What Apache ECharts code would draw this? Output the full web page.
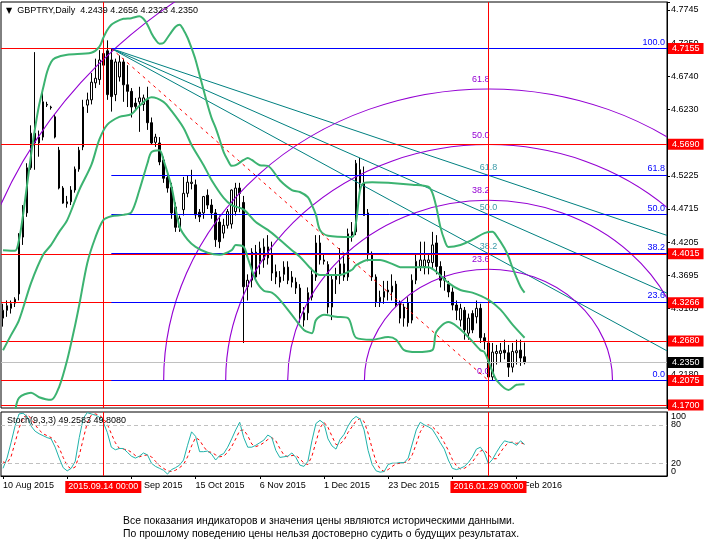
<!DOCTYPE html>
<html><head><meta charset="utf-8">
<script src="https://cdn.jsdelivr.net/npm/echarts@6/dist/echarts.min.js"></script>
<style>html,body{margin:0;padding:0;background:#fff}#c{width:706px;height:552px}</style>
</head><body><div id="c"></div>
<script>
// ---------- data ----------
const opens = [4.303,4.315,4.318,4.326,4.340,4.427,4.464,4.533,4.586,4.571,
4.580,4.630,4.626,4.611,4.560,4.502,4.478,4.481,4.499,4.531,
4.565,4.629,4.637,4.663,4.668,4.690,4.712,4.698,4.645,4.672,
4.695,4.660,4.650,4.632,4.634,4.630,4.637,4.602,4.572,4.571,
4.545,4.518,4.503,4.473,4.442,4.469,4.494,4.509,4.507,4.465,
4.464,4.491,4.476,4.464,4.450,4.433,4.445,4.447,4.466,4.502,
4.480,4.351,4.361,4.404,4.390,4.392,4.395,4.400,4.374,4.366,
4.370,4.381,4.366,4.358,4.349,4.300,4.311,4.335,4.366,4.418,
4.392,4.385,4.320,4.362,4.368,4.386,4.366,4.430,4.435,4.530,
4.510,4.464,4.400,4.366,4.328,4.335,4.343,4.343,4.355,4.327,
4.303,4.327,4.300,4.361,4.382,4.382,4.388,4.388,4.418,4.382,
4.361,4.355,4.343,4.323,4.300,4.315,4.280,4.310,4.305,4.318,
4.273,4.265,4.213,4.249,4.249,4.254,4.250,4.228,4.250,4.254,
4.2439];
const highs = [4.325,4.330,4.330,4.335,4.433,4.476,4.540,4.598,4.710,4.590,
4.652,4.634,4.628,4.615,4.565,4.505,4.490,4.505,4.535,4.565,
4.637,4.648,4.678,4.700,4.713,4.712,4.728,4.7155,4.700,4.705,
4.700,4.690,4.655,4.640,4.657,4.645,4.657,4.610,4.585,4.580,
4.550,4.525,4.510,4.480,4.460,4.519,4.522,4.530,4.515,4.470,
4.490,4.500,4.485,4.470,4.460,4.455,4.470,4.500,4.510,4.510,
4.490,4.370,4.410,4.415,4.420,4.425,4.430,4.420,4.385,4.375,
4.390,4.390,4.375,4.365,4.355,4.320,4.350,4.380,4.430,4.430,
4.400,4.390,4.370,4.380,4.410,4.400,4.440,4.450,4.545,4.548,
4.535,4.470,4.405,4.370,4.345,4.360,4.360,4.370,4.360,4.330,
4.325,4.335,4.370,4.400,4.420,4.420,4.400,4.435,4.430,4.390,
4.375,4.360,4.350,4.330,4.325,4.320,4.310,4.315,4.330,4.325,
4.280,4.270,4.265,4.262,4.265,4.270,4.262,4.265,4.270,4.270,
4.2656];
const lows = [4.290,4.305,4.310,4.320,4.330,4.415,4.458,4.530,4.530,4.550,
4.575,4.626,4.622,4.578,4.500,4.478,4.472,4.476,4.495,4.527,
4.560,4.617,4.630,4.655,4.660,4.685,4.637,4.619,4.635,4.665,
4.634,4.626,4.610,4.620,4.588,4.620,4.591,4.568,4.565,4.537,
4.510,4.495,4.455,4.435,4.435,4.460,4.488,4.500,4.455,4.450,
4.455,4.470,4.455,4.412,4.410,4.425,4.440,4.440,4.460,4.465,
4.265,4.330,4.350,4.360,4.370,4.380,4.385,4.360,4.355,4.350,
4.360,4.355,4.350,4.340,4.296,4.290,4.300,4.330,4.360,4.385,
4.385,4.310,4.300,4.340,4.355,4.360,4.360,4.420,4.430,4.490,
4.460,4.390,4.360,4.320,4.320,4.325,4.330,4.330,4.320,4.295,
4.290,4.290,4.295,4.355,4.375,4.370,4.370,4.380,4.370,4.350,
4.345,4.335,4.315,4.300,4.290,4.270,4.270,4.280,4.295,4.265,
4.255,4.2075,4.208,4.232,4.235,4.240,4.213,4.220,4.232,4.230,
4.2323];
const closes = [4.315,4.322,4.325,4.332,4.427,4.464,4.533,4.586,4.571,4.580,
4.634,4.629,4.625,4.580,4.502,4.479,4.481,4.499,4.531,4.560,
4.626,4.637,4.664,4.670,4.698,4.708,4.645,4.642,4.695,4.695,
4.660,4.650,4.626,4.627,4.640,4.640,4.602,4.571,4.580,4.542,
4.517,4.502,4.464,4.442,4.456,4.494,4.511,4.511,4.461,4.458,
4.489,4.476,4.464,4.423,4.420,4.445,4.466,4.499,4.502,4.494,
4.351,4.361,4.404,4.366,4.410,4.412,4.412,4.372,4.366,4.358,
4.381,4.361,4.358,4.349,4.311,4.311,4.342,4.370,4.418,4.392,
4.390,4.320,4.362,4.368,4.386,4.366,4.432,4.435,4.540,4.510,
4.460,4.400,4.366,4.328,4.335,4.344,4.346,4.352,4.323,4.303,
4.320,4.296,4.361,4.390,4.392,4.392,4.392,4.415,4.382,4.361,
4.364,4.343,4.323,4.315,4.318,4.285,4.303,4.285,4.318,4.273,
4.267,4.213,4.251,4.252,4.253,4.250,4.228,4.252,4.253,4.242,
4.2350];

const bbUpper = [[0,4.407],[3,4.406],[4,4.423],[5,4.461],[6,4.507],[7,4.553],[8,4.594],[9,4.629],[10,4.655],[11,4.680],[12,4.695],[13,4.701],[16,4.706],[22,4.709],[24,4.718],[25,4.732],[26,4.744],[27,4.752],[28,4.756],[30,4.761],[32,4.762],[34,4.765],[35,4.761],[36,4.752],[37,4.739],[38,4.729],[39,4.723],[40,4.724],[41,4.732],[42,4.741],[43,4.749],[44,4.752],[45,4.744],[46,4.732],[47,4.716],[48,4.698],[49,4.675],[50,4.652],[51,4.629],[52,4.609],[53,4.594],[54,4.576],[55,4.557],[56,4.545],[57,4.536],[58,4.537],[60,4.545],[61,4.548],[62,4.545],[64,4.537],[66,4.536],[69,4.514],[72,4.499],[74,4.496],[76,4.488],[77,4.476],[78,4.461],[79,4.438],[81,4.429],[87,4.427],[88,4.450],[89,4.499],[90,4.510],[92,4.511],[96,4.510],[102,4.507],[106,4.504],[107,4.495],[108,4.473],[109,4.443],[110,4.423],[111,4.412],[114,4.415],[117,4.423],[120,4.433],[122,4.435],[123,4.429],[125,4.410],[126,4.397],[127,4.380],[129,4.351],[130,4.342]];
const bbMiddle = [[0,4.254],[2,4.277],[4,4.300],[7,4.357],[10,4.400],[12,4.415],[14,4.435],[16,4.453],[19,4.499],[22,4.537],[24,4.576],[26,4.599],[29,4.611],[32,4.615],[34,4.628],[37,4.641],[40,4.634],[42,4.620],[45,4.594],[47,4.568],[50,4.537],[52,4.514],[55,4.487],[57,4.476],[60,4.469],[63,4.450],[66,4.438],[69,4.423],[72,4.407],[74,4.397],[77,4.377],[79,4.369],[84,4.369],[87,4.377],[88,4.384],[91,4.392],[94,4.392],[97,4.386],[99,4.381],[106,4.381],[108,4.374],[111,4.357],[114,4.346],[117,4.342],[121,4.331],[124,4.316],[127,4.293],[130,4.273]];
const bbLower = [[3,4.159],[4,4.181],[7,4.189],[9,4.182],[12,4.178],[14,4.198],[16,4.239],[18,4.293],[19,4.323],[21,4.387],[23,4.426],[25,4.453],[27,4.459],[30,4.461],[32,4.465],[34,4.499],[36,4.540],[37,4.557],[39,4.560],[40,4.545],[42,4.504],[44,4.443],[46,4.423],[48,4.412],[51,4.403],[54,4.400],[57,4.407],[58,4.415],[60,4.412],[61,4.395],[63,4.361],[65,4.345],[67,4.342],[69,4.331],[72,4.308],[75,4.285],[77,4.280],[78,4.300],[80,4.308],[83,4.305],[86,4.303],[88,4.273],[92,4.270],[96,4.274],[98,4.270],[100,4.254],[103,4.251],[107,4.254],[108,4.282],[111,4.297],[113,4.291],[116,4.274],[119,4.254],[120,4.251],[122,4.221],[123,4.208],[126,4.193],[128,4.201],[130,4.202]];

const stochMain = [12,28,52,78,97,98,93,78,70,66, 63,60,58,45,28,13,8,12,23,60,
90,99,97,95,92,84,68,45,41,43, 43,37,31,28,31,36,33,20,15,12,
9,3,10,13,17,25,48,69,62,38, 38,39,34,25,32,35,45,58,72,84,
60,45,45,48,52,56,64,60,40,29, 30,31,36,29,17,15,23,55,82,87,
82,58,47,42,57,65,78,88,93,89, 72,40,18,8,6,7,18,20,20,21,
21,28,50,72,84,80,77,73,63,52, 42,25,12,10,12,15,21,30,42,45,
36,19,26,37,47,55,53,52,48,55, 49.2583];
const stochSignal = [22,20,30,52,75,91,96,90,80,72, 66,63,60,54,44,29,16,11,14,32,
58,83,95,97,95,90,81,66,52,43, 42,41,37,32,30,32,33,30,23,16,
12,8,7,9,13,18,30,47,60,56, 46,38,37,33,30,31,37,46,58,71,
72,63,50,46,48,52,57,60,55,43, 33,30,32,32,27,20,18,31,53,75,
84,76,62,49,50,56,68,77,86,90, 85,67,43,22,11,7,10,15,19,20,
21,23,33,50,69,79,80,77,71,63, 52,40,26,16,11,12,16,22,31,39,
41,33,27,27,37,46,52,53,51,52, 49.808];

const dateLabels = ['10 Aug 2015','1 Sep 2015','23 Sep 2015','15 Oct 2015','6 Nov 2015','1 Dec 2015','23 Dec 2015','15 Jan 2016','8 Feb 2016'];
const priceTicks = [4.2180,4.2690,4.3185,4.3695,4.4205,4.4715,4.5225,4.5720,4.6230,4.6740,4.7250,4.7745];
const stochTicks = [20,80];
const stochEnds = [0,100];
const redLevels = [4.7155,4.5690,4.4015,4.3266,4.2680,4.2075,4.1700];
const fibPoints = [[27,4.7155],[121,4.2075]];
const fibRatios = [0,0.236,0.382,0.5,0.618,1];
const fanRatios = [0.382,0.5,0.618];
const arcRatios = [0,0.236,0.382,0.5,0.618,1];
const arcSpan = [131,0.722];
const markerBars = [25,121];
const markerLabels = ['2015.09.14 00:00','2016.01.29 00:00'];
const stochLevels = [20,80];
const footerLines = ['Все показания индикаторов и значения цены являются историческими данными.',
                     'По прошлому поведению цены нельзя достоверно судить о будущих результатах.'];

// ---------- chart ----------
const FONT = 'Liberation Sans';
const slots = 166;
const last = closes.length - 1;
const cats = Array.from({length: slots}, (_, i) => String(i));
const hi = fibPoints[0], lo = fibPoints[1];
const range = hi[1] - lo[1];
const candles = opens.map((o, i) => [o, closes[i], lows[i], highs[i]]);
const tickOn = i => i % 16 === 0 && i / 16 < dateLabels.length;

const chart = echarts.init(document.getElementById('c'));
const boxLabel = (text, bg) => ({show: true, position: 'end', formatter: text, color: '#fff', backgroundColor: bg,
  fontFamily: FONT, fontSize: 9, lineHeight: 10, padding: [1, 4, 0, 4], distance: 1});

const option = {
  animation: false,
  backgroundColor: '#fff',
  title: [
    {text: '{a|▼}  GBPTRY,Daily  ' + [opens[last], highs[last], lows[last], closes[last]].map(v => v.toFixed(4)).join(' '),
     left: 6, top: 6, padding: 0,
     textStyle: {fontFamily: FONT, fontSize: 9, fontWeight: 'normal', color: '#000',
       rich: {a: {fontSize: 8, fontFamily: 'DejaVu Sans', color: '#000'}}}},
    {text: 'Stoch(9,3,3) ' + stochMain[last].toFixed(4) + ' ' + stochSignal[last].toFixed(4),
     left: 7, top: 416, padding: 0, textStyle: {fontFamily: FONT, fontSize: 9, fontWeight: 'normal', color: '#000'}},
    {text: footerLines.join('\n'), left: 123, top: 515, padding: 0,
     textStyle: {fontFamily: FONT, fontSize: 10.4, lineHeight: 13, fontWeight: 'normal', color: '#000'}}
  ],
  grid: [
    {left: 1, top: 2, width: 666, height: 406, show: true, borderColor: '#000', borderWidth: 1, backgroundColor: 'transparent'},
    {left: 1, top: 412, width: 666, height: 64, show: true, borderColor: '#000', borderWidth: 1, backgroundColor: 'transparent'}
  ],
  xAxis: [
    {type: 'category', gridIndex: 0, data: cats, boundaryGap: true, axisLine: {show: false}, axisTick: {show: false}, axisLabel: {show: false}, splitLine: {show: false}},
    {type: 'value', gridIndex: 0, min: -0.5, max: slots - 0.5, show: false, axisLine: {show: false, onZero: false}, axisTick: {show: false}, axisLabel: {show: false}, splitLine: {show: false}},
    {type: 'category', gridIndex: 1, data: cats, boundaryGap: true, position: 'bottom',
     axisLine: {show: true, onZero: false, lineStyle: {color: '#000', width: 1}},
     axisTick: {show: true, alignWithLabel: true, interval: (i) => tickOn(i), length: 3, lineStyle: {color: '#000'}},
     axisLabel: {show: true, interval: (i) => tickOn(i), formatter: (v, i) => tickOn(i) ? dateLabels[i / 16] : '',
       align: 'left', margin: 5, fontFamily: FONT, fontSize: 9, color: '#000'},
     splitLine: {show: false}}
  ],
  yAxis: [
    {type: 'value', gridIndex: 0, position: 'right', min: 4.1655, max: 4.7867, interval: 0.05075,
     axisLine: {show: true, onZero: false, lineStyle: {color: '#000'}},
     axisTick: {show: true, inside: false, length: 3, lineStyle: {color: '#000'}},
     splitLine: {show: false},
     axisLabel: {margin: 4, fontFamily: FONT, fontSize: 9, color: '#000',
       formatter: v => { const m = priceTicks.find(t => Math.abs(t - v) < 0.004); return m ? m.toFixed(4) : ''; }}},
    {type: 'value', gridIndex: 1, position: 'right', min: 0, max: 100, interval: 20,
     axisLine: {show: true, onZero: false, lineStyle: {color: '#000'}},
     axisTick: {show: false},
     splitLine: {show: false},
     axisLabel: {margin: 4, fontFamily: FONT, fontSize: 9, color: '#000',
       formatter: v => stochTicks.includes(v) ? String(v) : ''}}
  ],
  series: [
    {type: 'candlestick', name: 'GBPTRY', xAxisIndex: 0, yAxisIndex: 0, data: candles, barWidth: 2, z: 3,
     itemStyle: {color: '#fff', color0: '#000', borderColor: '#000', borderColor0: '#000', borderWidth: 1},
     markLine: {symbol: ['none', 'none'], silent: true, animation: false, precision: 4,
       data: redLevels.map(v => ({yAxis: v, lineStyle: {color: '#FF0000', width: 1, type: 'solid'}, label: boxLabel(v.toFixed(4), '#FF0000')}))
         .concat([{yAxis: closes[last], lineStyle: {color: '#C0C0C0', width: 1, type: 'solid'}, label: boxLabel(closes[last].toFixed(4), '#000')}])}},
    {type: 'line', name: 'fibTrend', xAxisIndex: 1, yAxisIndex: 0, data: fibPoints, symbol: 'none', z: 4,
     lineStyle: {color: '#FF0000', width: 1, type: [3, 4]},
     markLine: {symbol: ['none', 'none'], silent: true, animation: false,
       data: fibRatios.map(r => [
         {coord: [hi[0], lo[1] + r * range], lineStyle: {color: '#0000FF', width: 1, type: 'solid'},
          label: {show: true, position: 'insideEndTop', formatter: (r * 100).toFixed(1), color: '#0000FF', fontFamily: FONT, fontSize: 9, distance: 2}},
         {coord: [slots - 0.5, lo[1] + r * range]}
       ]).concat(markerBars.map(b => ({xAxis: b, lineStyle: {color: '#FF0000', width: 1, type: 'solid'}, label: {show: false}})))}},
    {type: 'custom', name: 'fan', xAxisIndex: 1, yAxisIndex: 0, clip: true, z: 4, silent: true,
     data: fanRatios.map(r => [lo[0], lo[1] + r * range, r]),
     encode: {x: 0, y: 1},
     renderItem: (params, api) => {
       const r = api.value(2);
       const p0 = api.coord(hi);
       const p1 = api.coord([api.value(0), api.value(1)]);
       const xe = params.coordSys.x + params.coordSys.width;
       const ye = p0[1] + (p1[1] - p0[1]) * (xe - p0[0]) / (p1[0] - p0[0]);
       return {type: 'group', children: [
         {type: 'line', shape: {x1: p0[0], y1: p0[1], x2: xe, y2: ye}, style: {stroke: '#008080', lineWidth: 1}},
         {type: 'text', x: p1[0], y: p1[1] - 3, style: {text: (r * 100).toFixed(1), fill: '#3a9aa8', fontSize: 9, fontFamily: FONT, align: 'center', verticalAlign: 'bottom'}}
       ]};
     }},
    {type: 'custom', name: 'arcs', xAxisIndex: 1, yAxisIndex: 0, clip: true, z: 4, silent: true,
     data: arcRatios.map(r => [lo[0], lo[1] + r * arcSpan[1], r]),
     encode: {x: 0, y: 1},
     renderItem: (params, api) => {
       const r = api.value(2);
       const c = api.coord(lo);
       const top = api.coord([api.value(0), api.value(1)]);
       const side = api.coord([lo[0] + r * arcSpan[0], lo[1]]);
       const ry = c[1] - top[1];
       const rx = side[0] - c[0];
       const children = [];
       if (ry > 0) {
         children.push({type: 'arc', x: c[0], y: c[1], scaleX: rx / ry, scaleY: 1,
           shape: {cx: 0, cy: 0, r: ry, startAngle: Math.PI, endAngle: Math.PI * 2, clockwise: true},
           style: {stroke: '#9400D3', fill: 'none', lineWidth: 1, strokeNoScale: true}});
       }
       children.push({type: 'text', x: c[0] + 1, y: top[1] - 5,
         style: {text: (r * 100).toFixed(1), fill: '#9400D3', fontSize: 9, fontFamily: FONT, align: 'right', verticalAlign: 'bottom'}});
       return {type: 'group', children};
     }},
    {type: 'line', name: 'BB upper', xAxisIndex: 1, yAxisIndex: 0, data: bbUpper, smooth: 0.3, symbol: 'none', z: 5, lineStyle: {color: '#3CB371', width: 2}},
    {type: 'line', name: 'BB middle', xAxisIndex: 1, yAxisIndex: 0, data: bbMiddle, smooth: 0.3, symbol: 'none', z: 5, lineStyle: {color: '#3CB371', width: 2}},
    {type: 'line', name: 'BB lower', xAxisIndex: 1, yAxisIndex: 0, data: bbLower, smooth: 0.3, symbol: 'none', z: 5, lineStyle: {color: '#3CB371', width: 2}},
    {type: 'line', name: 'Stoch', xAxisIndex: 2, yAxisIndex: 1, data: stochMain, symbol: 'none', z: 4,
     lineStyle: {color: '#20B2AA', width: 1},
     markLine: {symbol: ['none', 'none'], silent: true, animation: false,
       data: stochLevels.map(v => ({yAxis: v, lineStyle: {color: '#C0C0C0', width: 1, type: [4, 3]}, label: {show: false}}))
         .concat(stochEnds.map(v => ({yAxis: v, lineStyle: {color: 'rgba(0,0,0,0)', width: 1}, label: {show: true, position: 'end', formatter: String(v),
           color: '#000', fontFamily: FONT, fontSize: 9, distance: 4, verticalAlign: v === 100 ? 'top' : 'bottom'}})))
         .concat(markerBars.map((b, k) => ({xAxis: String(b), lineStyle: {color: '#FF0000', width: 1, type: 'solid'},
           label: {show: true, position: 'start', formatter: markerLabels[k], color: '#fff', backgroundColor: '#FF0000',
             fontFamily: FONT, fontSize: 9, lineHeight: 10, padding: [1, 3, 1, 3], distance: 5}})))}},
    {type: 'line', name: 'Signal', xAxisIndex: 2, yAxisIndex: 1, data: stochSignal, symbol: 'none', z: 3,
     lineStyle: {color: '#FF0000', width: 1, type: [3, 3]}}
  ]
};
chart.setOption(option);
</script>
</body></html>
